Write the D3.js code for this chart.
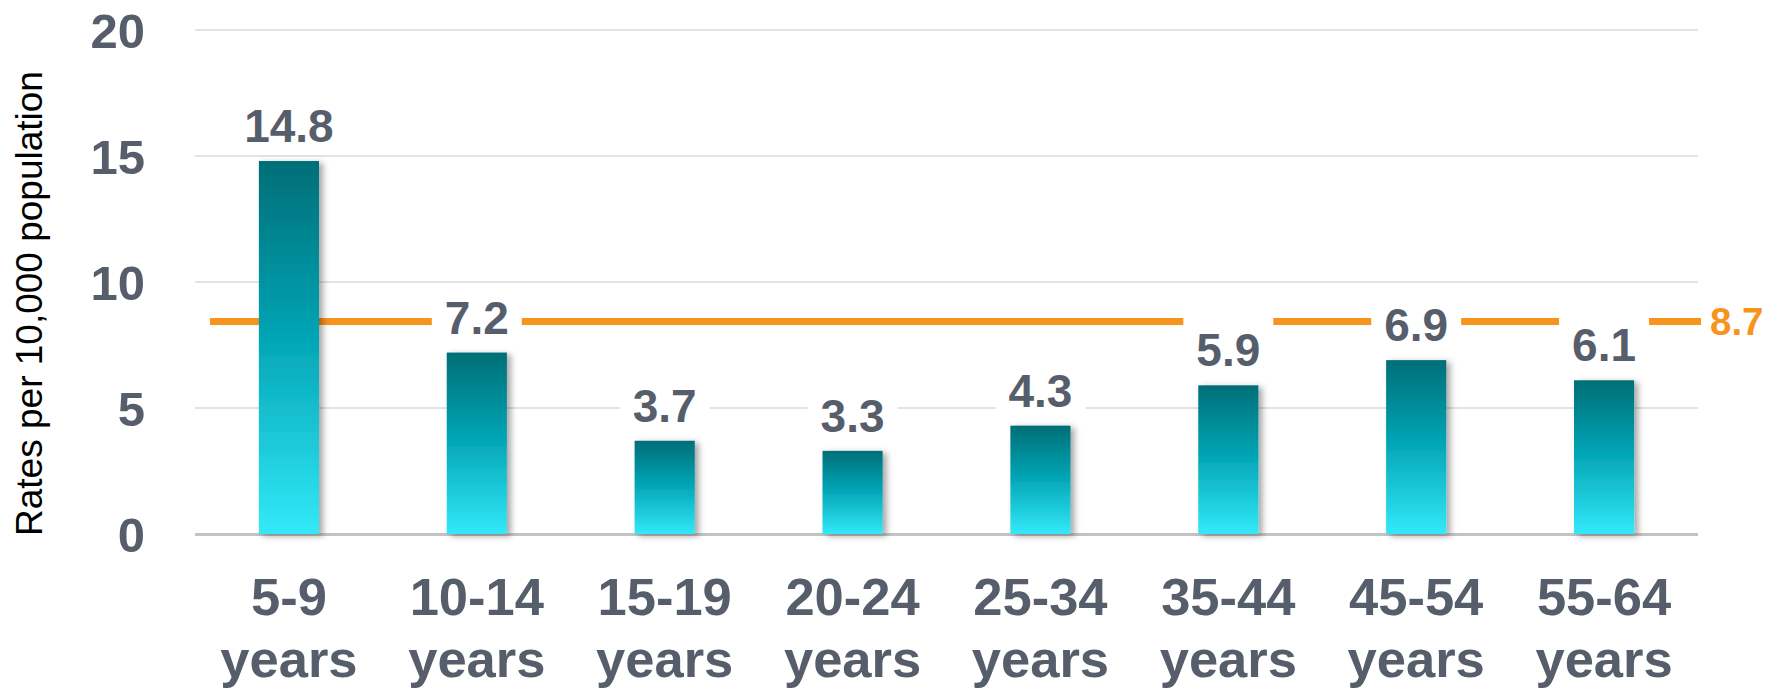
<!DOCTYPE html>
<html><head><meta charset="utf-8">
<script src="https://cdn.jsdelivr.net/npm/d3@7"></script>
<style>
html,body{margin:0;padding:0;background:#fff;}
svg{display:block;font-family:"Liberation Sans",Arial,Helvetica,sans-serif;}
</style></head>
<body>
<svg id="chart" width="1781" height="688"></svg>
<script>
const categories = ["5-9", "10-14", "15-19", "20-24", "25-34", "35-44", "45-54", "55-64"];
const categorySuffix = "years";
const rates = [14.8, 7.2, 3.7, 3.3, 4.3, 5.9, 6.9, 6.1];
const yTicks = [0, 5, 10, 15, 20];
const avgLineLevel = 8.43;   // where the reference line is drawn
const avgLabel = "8.7";
const yTitle = "Rates per 10,000 population";

const svg = d3.select("#chart");
const plot = {left: 195, right: 1698, top: 30, bottom: 534};

const x = d3.scaleBand().domain(categories).range([plot.left, plot.right]).paddingInner(0.68).paddingOuter(0.34);
const y = d3.scaleLinear().domain([0, 20]).range([plot.bottom, plot.top]);

const textGrey = "#575E6B";
const orange = "#F7941D";

const defs = svg.append("defs");
const grad = defs.append("linearGradient").attr("id", "barGrad").attr("x1", 0).attr("y1", 0).attr("x2", 0).attr("y2", 1);
grad.append("stop").attr("offset", "0%").attr("stop-color", "#026E77");
grad.append("stop").attr("offset", "45%").attr("stop-color", "#00A2B2");
grad.append("stop").attr("offset", "100%").attr("stop-color", "#33E9F9");
const f = defs.append("filter").attr("id", "shadow").attr("x", "-20%").attr("y", "-5%").attr("width", "150%").attr("height", "115%");
f.append("feDropShadow").attr("dx", 4).attr("dy", 2).attr("stdDeviation", 3).attr("flood-color", "#000").attr("flood-opacity", 0.35);

// gridlines
svg.append("g").selectAll("line").data(yTicks.filter(d => d !== 0)).join("line")
  .attr("x1", plot.left).attr("x2", plot.right)
  .attr("y1", d => y(d)).attr("y2", d => y(d))
  .attr("stroke", "#E3E3E3").attr("stroke-width", 2);

// y axis tick labels
const yAxis = d3.axisLeft(y).tickValues(yTicks).tickSize(0).tickPadding(0);
const gy = svg.append("g").attr("transform", `translate(145,0)`).call(yAxis);
gy.select(".domain").remove();
gy.selectAll("text").attr("font-size", 49).attr("font-weight", "bold").attr("fill", textGrey)
  .attr("font-family", "'Liberation Sans',Arial,sans-serif").attr("dy", "0.36em");

// y title
svg.append("text").attr("transform", `translate(42,${(72+535)/2}) rotate(-90)`)
  .attr("text-anchor", "middle").attr("font-size", 37).attr("fill", "#000").text(yTitle);

// average line
svg.append("line").attr("x1", plot.left + 15).attr("x2", plot.right + 3)
  .attr("y1", y(avgLineLevel)).attr("y2", y(avgLineLevel))
  .attr("stroke", orange).attr("stroke-width", 7);
svg.append("text").attr("x", 1710).attr("y", y(avgLineLevel)).attr("dy", "0.36em")
  .attr("font-size", 38.5).attr("font-weight", "bold").attr("fill", orange).text(avgLabel);

// baseline
svg.append("line").attr("x1", plot.left).attr("x2", plot.right)
  .attr("y1", y(0) + 0.5).attr("y2", y(0) + 0.5).attr("stroke", "#C3C3C3").attr("stroke-width", 3);

// bars
svg.append("g").selectAll("rect").data(rates).join("rect")
  .attr("x", (d, i) => x(categories[i]))
  .attr("width", x.bandwidth())
  .attr("y", d => y(d))
  .attr("height", d => y(0) - y(d))
  .attr("fill", "url(#barGrad)")
  .attr("filter", "url(#shadow)");

// value labels with white boxes
const lg = svg.append("g");
rates.forEach((d, i) => {
  const cx = x(categories[i]) + x.bandwidth() / 2;
  const base = y(d) - 19;
  const g = lg.append("g");
  const rect = g.append("rect").attr("fill", "#fff");
  const t = g.append("text").attr("x", cx).attr("y", base).attr("text-anchor", "middle")
    .attr("font-size", 46).attr("font-weight", "bold").attr("fill", textGrey).text(d.toFixed(1));
  const bb = t.node().getBBox();
  rect.attr("x", bb.x - 13).attr("width", bb.width + 26).attr("y", base - 50).attr("height", 58);
});

// x axis labels
const xAxis = d3.axisBottom(x).tickSize(0).tickFormat(() => "");
const gx = svg.append("g").attr("transform", `translate(0,${plot.bottom})`).call(xAxis);
gx.select(".domain").remove();
gx.selectAll(".tick").each(function(c) {
  const t = d3.select(this).append("text").attr("text-anchor", "middle")
    .attr("font-size", 52.5).attr("font-weight", "bold").attr("fill", textGrey)
    .attr("font-family", "'Liberation Sans',Arial,sans-serif");
  t.append("tspan").attr("x", 0).attr("y", 615 - plot.bottom).text(c);
  t.append("tspan").attr("x", 0).attr("y", 677 - plot.bottom).text(categorySuffix);
});
</script>
</body></html>
